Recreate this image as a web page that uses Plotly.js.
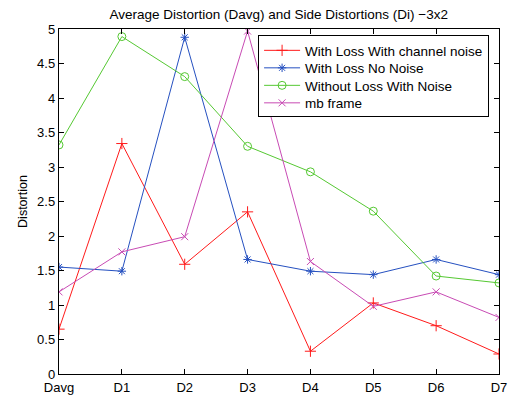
<!DOCTYPE html>
<html>
<head>
<meta charset="utf-8">
<script src="https://cdn.plot.ly/plotly-3.0.1.min.js"></script>
<style>html,body{margin:0;padding:0;background:#fff;}#chart{width:518px;height:396px;}</style>
</head>
<body>
<div id="chart"></div>
<script>
const categories = ["Davg","D1","D2","D3","D4","D5","D6","D7"];
const withLossChannelNoise = [0.65, 3.34, 1.59, 2.35, 0.33, 1.03, 0.70, 0.29];
const withLossNoNoise      = [1.55, 1.49, 4.88, 1.66, 1.49, 1.44, 1.66, 1.44];
const withoutLossWithNoise = [3.32, 4.89, 4.31, 3.30, 2.93, 2.36, 1.42, 1.32];
const mbFrame              = [1.19, 1.77, 1.99, 4.97, 1.63, 0.98, 1.19, 0.82];
const seriesNames = ["With Loss With channel noise","With Loss No Noise","Without Loss With Noise","mb frame"];
const yTicks = [0,0.5,1,1.5,2,2.5,3,3.5,4,4.5,5];

const styles = [
  {color:"#ff1a1a", symbol:"cross-thin-open", size:8},
  {color:"#2550c0", symbol:"asterisk-open", size:7},
  {color:"#55c832", symbol:"circle-open", size:8},
  {color:"#c84bb4", symbol:"x-thin-open", size:7}
];
const data = [withLossChannelNoise, withLossNoNoise, withoutLossWithNoise, mbFrame].map((ys,i)=>({
  x: categories, y: ys, type:"scatter", mode:"lines+markers", name: seriesNames[i],
  line:{color:styles[i].color, width:1},
  marker:{symbol:styles[i].symbol, size:styles[i].size, color:styles[i].color, line:{color:styles[i].color, width:1}}
}));

const layout = {
  width:518, height:396,
  margin:{l:59, r:19, t:29, b:22},
  paper_bgcolor:"#fff", plot_bgcolor:"#fff",
  font:{family:"Liberation Sans, Arial, sans-serif", size:13, color:"#000"},
  title:{text:"Average Distortion (Davg) and Side Distortions (Di) \u22123x2", x:0.538, xanchor:"center", y:0.964, yanchor:"middle", font:{size:13.5}},
  showlegend:true,
  legend:{x:0.452, xanchor:"left", y:0.983, yanchor:"top", bgcolor:"#fff", bordercolor:"#000", borderwidth:1.2, font:{size:13.5}, tracegroupgap:0, itemwidth:36},
  xaxis:{type:"category", range:[0,7], showgrid:false, zeroline:false, showline:true, linecolor:"#000", linewidth:1.2, mirror:"ticks", ticks:"inside", ticklen:5, tickcolor:"#000", tickfont:{size:13}, ticklabelstandoff:1, fixedrange:true},
  yaxis:{range:[0,5], tickvals:yTicks, ticktext:yTicks.map(String), showgrid:false, zeroline:false, showline:true, linecolor:"#000", linewidth:1.2, mirror:"ticks", ticks:"inside", ticklen:5, tickcolor:"#000", tickfont:{size:13}, title:{text:"Distortion", font:{size:12.5}, standoff:6}, fixedrange:true}
};
Plotly.newPlot("chart", data, layout, {displayModeBar:false, staticPlot:true}).then(gd => {
  // tighten legend row spacing to match the reference
  const items = gd.querySelectorAll('.legend .traces');
  if (items.length < 2) return;
  const getY = el => { const m = /translate\(\s*([-\d.]+)[ ,]+([-\d.]+)/.exec(el.getAttribute('transform') || ''); return m ? [parseFloat(m[1]), parseFloat(m[2])] : null; };
  const p0 = getY(items[0]), p1 = getY(items[1]);
  if (!p0 || !p1) return;
  const oldStep = p1[1] - p0[1], newStep = 17.5;
  items.forEach((el, i) => { const p = getY(el); if (p) el.setAttribute('transform', `translate(${p[0]},${p0[1] + i*newStep - 1})`); });
  const bg = gd.querySelector('.legend rect.bg');
  if (bg) { const h = parseFloat(bg.getAttribute('height')); bg.setAttribute('height', h - (items.length - 1)*(oldStep - newStep) - 4); }
});
</script>
</body>
</html>
